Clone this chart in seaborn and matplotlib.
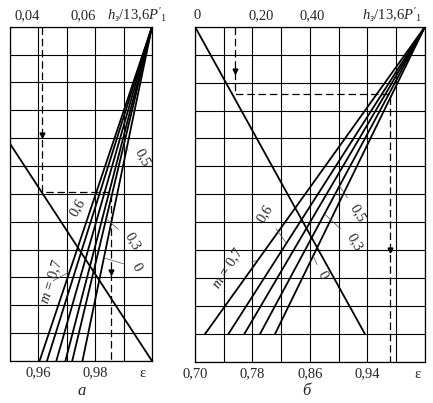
import matplotlib
matplotlib.use("Agg")
import matplotlib.pyplot as plt
import matplotlib.transforms as mtransforms
import numpy as np
import pandas as pd
import seaborn as sns

# === data ===
# panel a: eps at the bottom (h=0) for each m, all lines meet at top right corner
M_A = ["0,7", "0,6", "0,5", "0,4", "0,3", "0"]
EPS0_A = [0.9604, 0.9630, 0.9663, 0.9695, 0.9719, 0.9755]
TOP_A = (1.00, 12)
DIAG_A_X = [0.95, 1.00]
DIAG_A_Y = [7.8, 0.0]
DASH_A_X = [0.9611, 0.9611, 0.9855, 0.9855]
DASH_A_Y = [12.0, 6.05, 6.05, 0.0]
ARROW_A_X = [0.9611, 0.9855]
ARROW_A_Y = [8.1, 3.2]

# panel b: lines start at h=1
M_B = ["0,7", "0,6", "0,5", "0,3", "0"]
EPS0_B = [0.7139, 0.7464, 0.7686, 0.7904, 0.8113]
H0_B = 1.0
TOP_B = (1.02, 12)
DIAG_B_X = [0.70, 0.9365]
DIAG_B_Y = [12.0, 1.0]
DASH_B_X = [0.7557, 0.7557, 0.9713, 0.9713]
DASH_B_Y = [12.0, 9.6, 9.6, 0.0]
ARROW_B_X = [0.7557, 0.9713]
ARROW_B_Y = [10.4, 4.0]

# axes scales
GRID_A = [0.95, 0.96, 0.97, 0.98, 0.99, 1.00]
BOT_TICKS_A = ["", "0,96", "", "0,98", "", ""]
TOP_POS_A = [0.956, 0.9756]
TOP_LAB_A = ["0,04", "0,06"]

GRID_B = [0.70, 0.74, 0.78, 0.82, 0.86, 0.90, 0.94, 0.98, 1.02]
BOT_TICKS_B = ["0,70", "", "0,78", "", "0,86", "", "0,94", "", ""]
TOP_POS_B = [0.7028, 0.7918, 0.8628]
TOP_LAB_B = ["0", "0,20", "0,40"]

H_LABEL = r"$h_з/13{,}6P'_1$"

sns.set_style("white")
plt.rcParams["font.family"] = ["Liberation Serif", "DejaVu Serif"]
plt.rcParams["mathtext.fontset"] = "custom"
plt.rcParams["mathtext.rm"] = "Liberation Serif"
plt.rcParams["mathtext.it"] = "Liberation Serif:italic"

FS = 10.5


def family_df(eps0, h0, top, names):
    rows = {"eps": [], "h": [], "m": []}
    for e, n in zip(eps0, names):
        rows["eps"] += [e, top[0]]
        rows["h"] += [h0, top[1]]
        rows["m"] += [n, n]
    return pd.DataFrame(rows)


def on_line(e0, h0, top, h):
    return e0 + (top[0] - e0) * (h - h0) / (top[1] - h0)


def setup(ax, grid, bot_labels, top_pos, top_lab, eps_x, hx):
    ax.set_xlim(grid[0], grid[-1])
    ax.set_ylim(0, 12)
    ax.set_xticks(grid, labels=bot_labels)
    ax.set_yticks(np.arange(0, 13), labels=[])
    ax.grid(True, color="black", lw=0.8)
    ax.tick_params(length=0, pad=3.5, labelsize=FS)
    for s in ax.spines.values():
        s.set_color("black")
        s.set_linewidth(0.9)
    ax.set_xlabel("")
    ax.set_ylabel("")
    sec = ax.secondary_xaxis("top")
    sec.set_xticks(top_pos, labels=top_lab)
    sec.tick_params(length=0, pad=3.4, labelsize=FS)
    sec.spines["top"].set_visible(False)
    tr = mtransforms.blended_transform_factory(ax.transData, ax.transAxes)
    ax.text(eps_x, -0.036, "ε", transform=tr, ha="center", va="center", fontsize=FS)
    ax.text(hx, 1.035, H_LABEL, transform=ax.transAxes, ha="right", va="center", fontsize=FS)


fig = plt.figure(figsize=(4.33, 4.03), dpi=100)
ax_a = fig.add_axes([0.0231, 0.1042, 0.328, 0.8295])
ax_b = fig.add_axes([0.4503, 0.1017, 0.5312, 0.832])

# ---- panel a ----
df_a = family_df(EPS0_A, 0.0, TOP_A, M_A)
sns.lineplot(data=df_a, x="eps", y="h", units="m", estimator=None, sort=False,
             color="black", lw=1.3, ax=ax_a)
sns.lineplot(x=DIAG_A_X, y=DIAG_A_Y, sort=False, estimator=None, color="black", lw=1.3, ax=ax_a)
ax_a.plot(DASH_A_X, DASH_A_Y, color="black", lw=0.9, linestyle=(0, (6, 3)))
ax_a.plot(ARROW_A_X, ARROW_A_Y, "v", color="black", ms=3.5, linestyle="none")
setup(ax_a, GRID_A, BOT_TICKS_A, TOP_POS_A, TOP_LAB_A, 0.9967, 1.106)

# labels with leaders: (text, line index, target h, text x, text y, rotation)
labels_a = [("0,5", 3, 7.7, 0.9967, 7.3, -62),
            ("0,6", 1, 4.9, 0.9739, 5.5, 60),
            ("0,3", 4, 5.1, 0.9932, 4.3, -60),
            ("0", 5, 3.7, 0.9946, 3.35, -60),
            ("$m$ = 0,7", 0, 3.2, 0.9647, 2.85, 72)]
for txt, i, ht, tx, ty, rot in labels_a:
    xt = on_line(EPS0_A[i], 0.0, TOP_A, ht)
    ax_a.annotate(txt, xy=(xt, ht), xytext=(tx, ty), rotation=rot, ha="center", va="center",
                  fontsize=FS, arrowprops=dict(arrowstyle="-", lw=0.5, color="0.3",
                                               shrinkA=1, shrinkB=0))

# ---- panel b ----
df_b = family_df(EPS0_B, H0_B, TOP_B, M_B)
sns.lineplot(data=df_b, x="eps", y="h", units="m", estimator=None, sort=False,
             color="black", lw=1.3, ax=ax_b)
sns.lineplot(x=DIAG_B_X, y=DIAG_B_Y, sort=False, estimator=None, color="black", lw=1.3, ax=ax_b)
ax_b.plot(DASH_B_X, DASH_B_Y, color="black", lw=0.9, linestyle=(0, (6, 3)))
ax_b.plot(ARROW_B_X, ARROW_B_Y, "v", color="black", ms=3.5, linestyle="none")
setup(ax_b, GRID_B, BOT_TICKS_B, TOP_POS_B, TOP_LAB_B, 1.009, 0.991)

labels_b = [("0,6", 1, 4.25, 0.7974, 5.32, 58),
            ("0,5", 3, 6.3, 0.9268, 5.32, -60),
            ("0,3", 3, 5.3, 0.9226, 4.29, -60),
            ("0", 4, 3.8, 0.8767, 3.1, -60),
            ("$m$ = 0,7", 0, 3.64, 0.7459, 3.36, 57)]
for txt, i, ht, tx, ty, rot in labels_b:
    xt = on_line(EPS0_B[i], H0_B, TOP_B, ht)
    ax_b.annotate(txt, xy=(xt, ht), xytext=(tx, ty), rotation=rot, ha="center", va="center",
                  fontsize=FS, arrowprops=dict(arrowstyle="-", lw=0.5, color="0.3",
                                               shrinkA=1, shrinkB=0))

fig.text(82 / 433, 1 - 391 / 403, "а", ha="center", va="center", fontsize=12, style="italic")
fig.text(306 / 433, 1 - 391 / 403, "б", ha="center", va="center", fontsize=12, style="italic")

fig.savefig("out.png", dpi=100)
